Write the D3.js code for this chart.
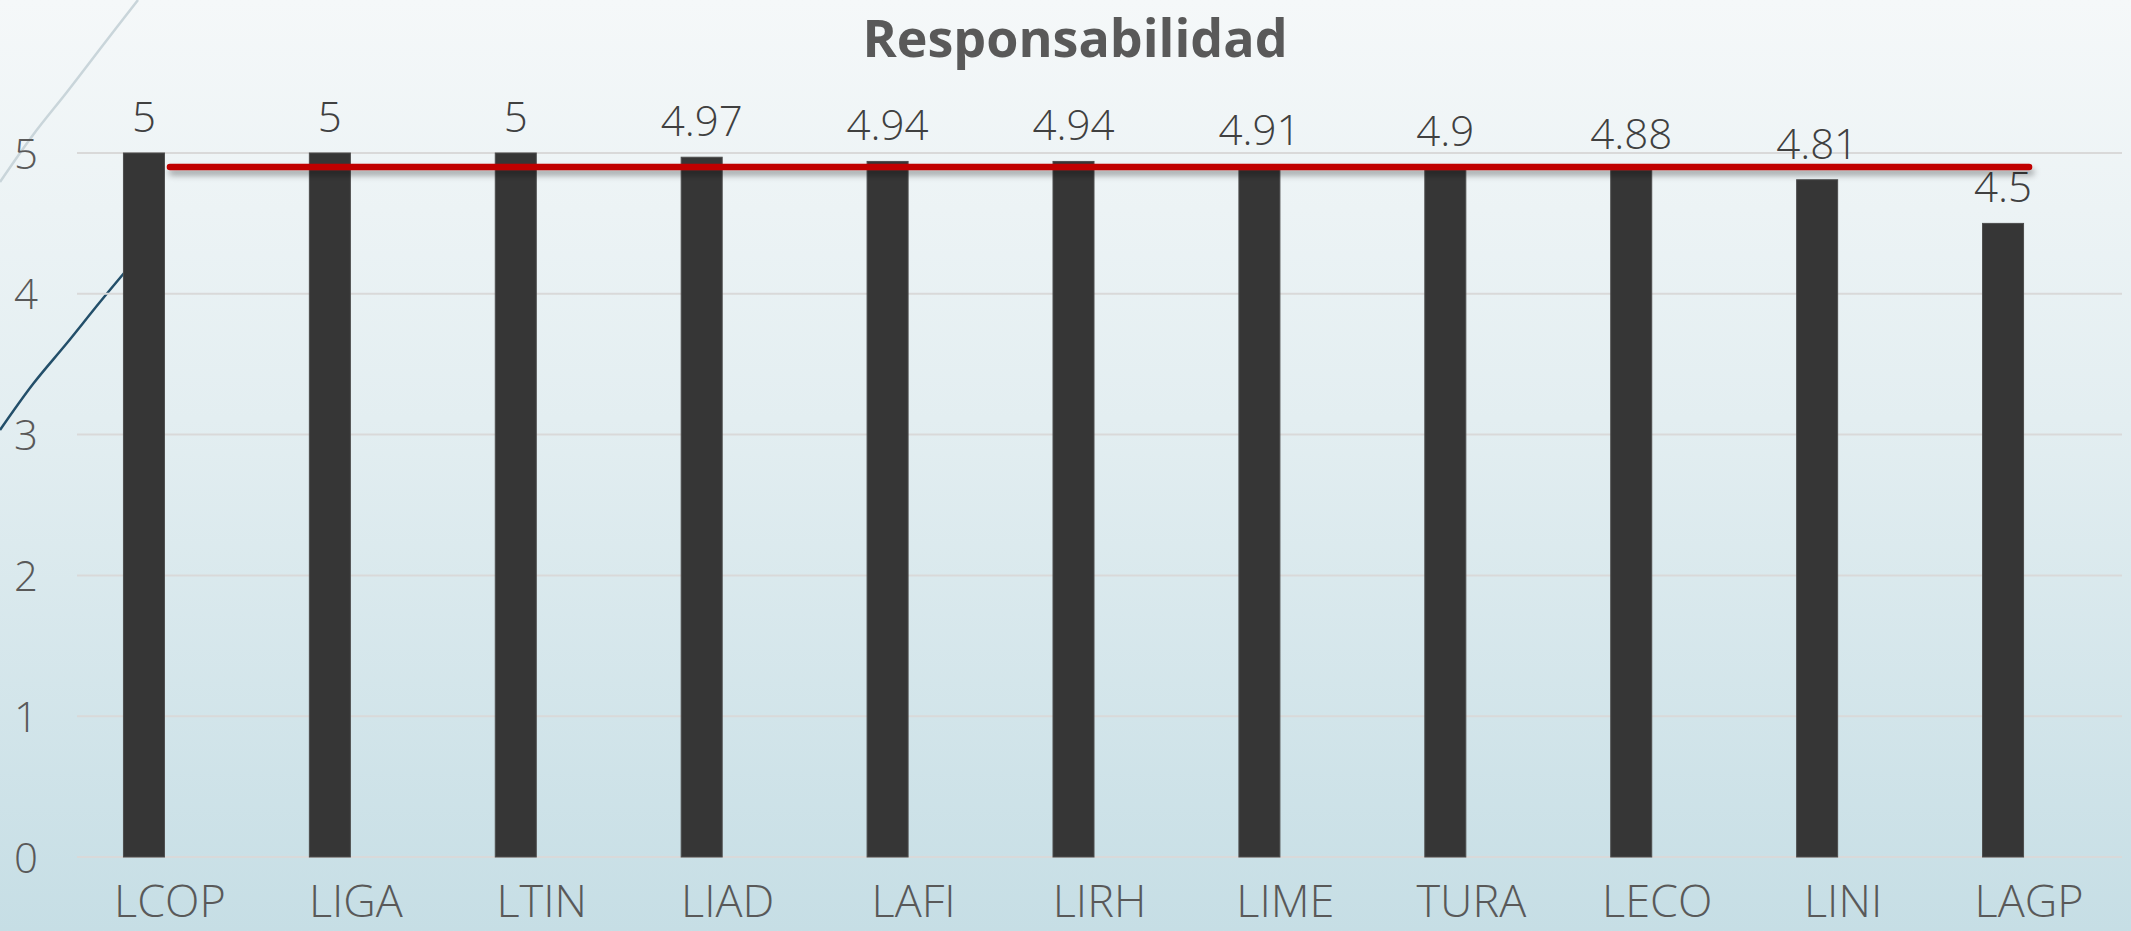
<!DOCTYPE html>
<html><head><meta charset="utf-8">
<script src="https://cdn.jsdelivr.net/npm/d3@7"></script>
<style>html,body{margin:0;padding:0;overflow:hidden;background:#fff}svg{display:block}</style>
</head><body>
<svg id="chart" width="2131" height="931"></svg>
<script>
const categories = ["LCOP","LIGA","LTIN","LIAD","LAFI","LIRH","LIME","TURA","LECO","LINI","LAGP"];
const values = [5, 5, 5, 4.97, 4.94, 4.94, 4.91, 4.9, 4.88, 4.81, 4.5];
const averageValues = [4.9, 4.9, 4.9, 4.9, 4.9, 4.9, 4.9, 4.9, 4.9, 4.9, 4.9];
const yTicks = [0, 1, 2, 3, 4, 5];
const titleText = "Responsabilidad";

const W = 2131, H = 931;
const svg = d3.select("#chart");
const defs = svg.append("defs");

const grad = defs.append("linearGradient").attr("id","bg").attr("x1",0).attr("y1",0).attr("x2",0).attr("y2",1);
grad.append("stop").attr("offset","0%").attr("stop-color","#f5f8f9");
grad.append("stop").attr("offset","45%").attr("stop-color","#e3eef1");
grad.append("stop").attr("offset","100%").attr("stop-color","#c6dee5");

const shadow = defs.append("filter").attr("id","shadow").attr("filterUnits","userSpaceOnUse")
  .attr("x",0).attr("y",0).attr("width",W).attr("height",H);
shadow.append("feDropShadow").attr("dx",2).attr("dy",5).attr("stdDeviation",3)
  .attr("flood-color","#000").attr("flood-opacity",0.35);

svg.append("rect").attr("width",W).attr("height",H).attr("fill","url(#bg)");

// decorative theme curves (top-left)
const curve = d3.line().curve(d3.curveCatmullRom);
svg.append("path").attr("d", curve([[0,182],[33,135],[67,92],[100,49],[138,0]]))
  .attr("fill","none").attr("stroke","#c9d5da").attr("stroke-width",2.5);
svg.append("path").attr("d", curve([[0,430],[33,384],[67,343],[100,302],[130,266]]))
  .attr("fill","none").attr("stroke","#234f6a").attr("stroke-width",2.5);

const x = d3.scaleBand().domain(categories).range([77, 2122]).padding(0);
const y = d3.scaleLinear().domain([0, 5]).range([857, 153]);
const barW = 41, barShift = -26;

const fontFam = "'Open Sans', 'Noto Sans', sans-serif";

// gridlines
svg.append("g").selectAll("line").data(yTicks).join("line")
  .attr("x1", x.range()[0]).attr("x2", x.range()[1])
  .attr("y1", d => y(d)).attr("y2", d => y(d))
  .attr("stroke","#d9d9d9").attr("stroke-width",2);

// y axis labels
const yAxis = d3.axisLeft(y).tickValues(yTicks).tickSize(0).tickPadding(0).tickFormat(d3.format("d"));
const gy = svg.append("g").attr("transform","translate(38,0)").call(yAxis);
gy.select(".domain").remove();
gy.selectAll("text").attr("font-family",fontFam).attr("font-weight",300).attr("font-size",42)
  .attr("fill","#595959").attr("dy","0.36em");

// x axis labels
const xAxis = d3.axisBottom(x).tickSize(0).tickPadding(0);
const gx = svg.append("g").attr("transform","translate(0,917)").call(xAxis);
gx.select(".domain").remove();
gx.selectAll("text").attr("font-family",fontFam).attr("font-weight",300).attr("font-size",45)
  .attr("fill","#595959").attr("dy",0).attr("y",0);

// bars
svg.append("g").selectAll("rect").data(values).join("rect")
  .attr("x",(d,i) => x(categories[i]) + x.bandwidth()/2 + barShift - barW/2)
  .attr("width",barW)
  .attr("y", d => y(d))
  .attr("height", d => y(0) - y(d))
  .attr("fill","#363636").attr("stroke","#4d4d4d").attr("stroke-width",1);

// value labels
svg.append("g").selectAll("text").data(values).join("text")
  .attr("x",(d,i) => x(categories[i]) + x.bandwidth()/2 + barShift)
  .attr("y", d => y(d) - 21)
  .attr("text-anchor","middle")
  .attr("font-family",fontFam).attr("font-weight",300).attr("font-size",42)
  .attr("fill","#404040")
  .text(d => String(d));

// average line
const line = d3.line().x((d,i) => x(categories[i]) + x.bandwidth()/2).y(d => y(d));
svg.append("path").datum(averageValues).attr("d", line)
  .attr("fill","none").attr("stroke","#c00000").attr("stroke-width",6.5)
  .attr("stroke-linecap","round").attr("filter","url(#shadow)");

// title
svg.append("text").attr("x",1075).attr("y",57).attr("text-anchor","middle")
  .attr("font-family",fontFam).attr("font-weight",700).attr("font-size",52)
  .attr("fill","#595959").text(titleText);
</script>
</body></html>
